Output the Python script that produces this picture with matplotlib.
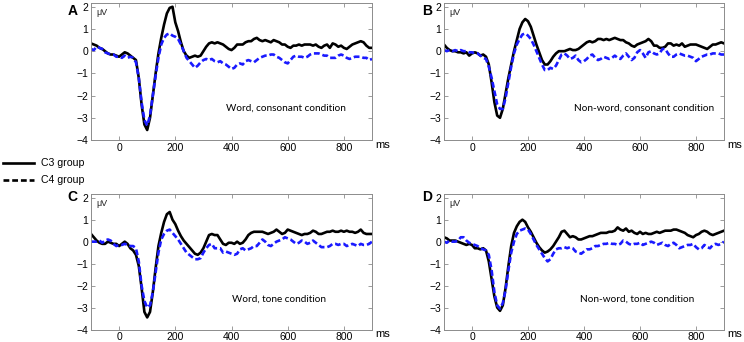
import numpy as np
import matplotlib
matplotlib.use("Agg")
import matplotlib.pyplot as plt
from matplotlib.lines import Line2D

# time axis in ms (sampled every 10 ms)
time_ms = np.arange(-100, 901, 10)

# Panel A: Word, consonant condition
a_c3 = [0.35, 0.3, 0.25, 0.15, 0.1, 0.0, -0.1, -0.15, -0.15, -0.2, -0.25,
        -0.15, -0.05, -0.1, -0.2, -0.3, -0.4, -1.2, -2.4, -3.3, -3.55,
        -3.0, -2.0, -1.0, -0.1, 0.6, 1.2, 1.7, 1.95, 2.0, 1.3,
        0.9, 0.4, 0.0, -0.2, -0.3, -0.25, -0.2, -0.25, -0.2, 0.0,
        0.2, 0.35, 0.4, 0.35, 0.4, 0.35, 0.3, 0.2, 0.1, 0.05,
        0.15, 0.3, 0.3, 0.3, 0.4, 0.45, 0.45, 0.55, 0.6, 0.5,
        0.45, 0.5, 0.45, 0.4, 0.5, 0.45, 0.4, 0.3, 0.3, 0.2,
        0.15, 0.25, 0.25, 0.3, 0.25, 0.3, 0.3, 0.3, 0.25, 0.3,
        0.2, 0.15, 0.25, 0.3, 0.15, 0.35, 0.3, 0.2, 0.25, 0.15,
        0.1, 0.2, 0.3, 0.35, 0.4, 0.45, 0.4, 0.25, 0.15, 0.15]
a_c4 = [0.1, 0.05, 0.2, 0.15, 0.1, -0.05, -0.1, -0.15, -0.15, -0.25, -0.25,
        -0.3, -0.2, -0.3, -0.25, -0.3, -0.5, -1.2, -2.3, -3.1, -3.35,
        -2.9, -2.0, -1.1, -0.3, 0.3, 0.6, 0.75, 0.8, 0.7, 0.65,
        0.55, 0.3, 0.0, -0.3, -0.45, -0.6, -0.75, -0.65, -0.5, -0.4,
        -0.35, -0.4, -0.35, -0.45, -0.5, -0.45, -0.55, -0.6, -0.7, -0.8,
        -0.75, -0.6, -0.55, -0.6, -0.45, -0.4, -0.45, -0.5, -0.4, -0.3,
        -0.25, -0.2, -0.2, -0.15, -0.15, -0.25, -0.3, -0.4, -0.5, -0.55,
        -0.4, -0.25, -0.2, -0.25, -0.25, -0.3, -0.25, -0.15, -0.1, -0.1,
        -0.1, -0.15, -0.2, -0.2, -0.3, -0.3, -0.3, -0.2, -0.15, -0.2,
        -0.3, -0.35, -0.3, -0.25, -0.25, -0.25, -0.3, -0.3, -0.4, -0.35]

# Panel B: Non-word, consonant condition
b_c3 = [0.3, 0.15, 0.05, 0.0, 0.0, -0.05, -0.05, -0.1, -0.05, -0.2, -0.1,
        -0.05, -0.1, -0.2, -0.15, -0.25, -0.6, -1.4, -2.3, -2.9, -3.0,
        -2.6, -1.9, -1.2, -0.6, 0.0, 0.5, 1.0, 1.3, 1.45, 1.35,
        1.1, 0.7, 0.3, -0.05, -0.4, -0.6, -0.6, -0.45, -0.25, -0.1,
        0.0, 0.0, 0.0, 0.05, 0.1, 0.05, 0.05, 0.1, 0.2, 0.3,
        0.4, 0.45, 0.4, 0.45, 0.55, 0.55, 0.5, 0.55, 0.5, 0.55,
        0.6, 0.55, 0.5, 0.5, 0.4, 0.35, 0.25, 0.2, 0.3, 0.35,
        0.4, 0.45, 0.55, 0.45, 0.25, 0.25, 0.15, 0.15, 0.2, 0.35,
        0.35, 0.25, 0.3, 0.25, 0.35, 0.2, 0.25, 0.3, 0.3, 0.3,
        0.25, 0.2, 0.15, 0.1, 0.2, 0.3, 0.3, 0.35, 0.4, 0.35]
b_c4 = [0.05, 0.0, 0.05, 0.0, 0.05, 0.0, 0.05, 0.0, 0.0, -0.05, -0.05,
        -0.1, -0.1, -0.2, -0.3, -0.35, -0.7, -1.2, -1.8, -2.4, -2.6,
        -2.6, -2.1, -1.4, -0.7, -0.1, 0.3, 0.55, 0.75, 0.8, 0.7,
        0.55, 0.3, 0.0, -0.3, -0.6, -0.85, -0.85, -0.75, -0.8, -0.65,
        -0.4, -0.15, -0.1, -0.2, -0.35, -0.3, -0.2, -0.4, -0.5, -0.45,
        -0.35, -0.2, -0.15, -0.3, -0.4, -0.35, -0.25, -0.3, -0.35, -0.3,
        -0.2, -0.3, -0.35, -0.2, -0.1, -0.25, -0.4, -0.3, -0.05, 0.05,
        -0.1, -0.3, -0.05, 0.0, -0.1, -0.15, -0.1, 0.1, 0.1, -0.1,
        -0.25, -0.25, -0.15, -0.1, -0.15, -0.2, -0.2, -0.25, -0.3, -0.45,
        -0.35, -0.25, -0.2, -0.15, -0.15, -0.1, -0.1, -0.1, -0.15, -0.15]

# Panel C: Word, tone condition
c_c3 = [0.35, 0.2, 0.05, -0.05, -0.1, -0.1, 0.0, -0.05, -0.1, -0.1, -0.2,
        -0.1, 0.0, -0.1, -0.3, -0.4, -0.6, -1.1, -2.1, -3.2, -3.45,
        -3.2, -2.3, -1.2, -0.2, 0.4, 0.9, 1.25, 1.35, 1.0, 0.8,
        0.5, 0.25, 0.05, -0.1, -0.25, -0.4, -0.55, -0.6, -0.5, -0.3,
        0.0, 0.3, 0.35, 0.3, 0.3, 0.1, -0.1, -0.15, -0.05, -0.05,
        -0.1, 0.0, -0.1, -0.05, 0.1, 0.3, 0.4, 0.45, 0.45, 0.45,
        0.45, 0.4, 0.35, 0.4, 0.45, 0.55, 0.45, 0.35, 0.4, 0.55,
        0.5, 0.45, 0.4, 0.35, 0.3, 0.35, 0.35, 0.4, 0.5, 0.45,
        0.35, 0.35, 0.4, 0.45, 0.45, 0.5, 0.45, 0.45, 0.5, 0.45,
        0.5, 0.45, 0.45, 0.4, 0.45, 0.55, 0.4, 0.35, 0.35, 0.35]
c_c4 = [0.0, 0.0, 0.0, 0.05, -0.05, 0.05, 0.1, 0.05, -0.1, -0.2, -0.15,
        -0.15, -0.1, -0.15, -0.2, -0.2, -0.3, -0.9, -2.0, -2.7, -3.0,
        -2.9, -2.3, -1.4, -0.5, 0.1, 0.35, 0.5, 0.55, 0.4, 0.25,
        0.1, -0.1, -0.3, -0.5, -0.6, -0.7, -0.8, -0.8, -0.75, -0.5,
        -0.3, -0.15, -0.1, -0.3, -0.3, -0.3, -0.5, -0.45, -0.5, -0.55,
        -0.6, -0.55, -0.35, -0.3, -0.4, -0.35, -0.3, -0.2, -0.2, -0.05,
        0.1, 0.0, -0.15, -0.2, -0.1, 0.0, 0.05, 0.1, 0.2, 0.15,
        0.1, 0.0, -0.1, -0.05, 0.05, 0.0, -0.1, -0.05, 0.05, -0.05,
        -0.15, -0.25, -0.25, -0.25, -0.2, -0.1, -0.1, -0.15, -0.1, -0.1,
        -0.2, -0.15, -0.1, -0.15, -0.2, -0.1, -0.15, -0.15, -0.1, 0.0]

# Panel D: Non-word, tone condition
d_c3 = [0.2, 0.15, 0.05, 0.05, 0.05, 0.0, -0.05, -0.1, -0.15, -0.1, -0.15,
        -0.3, -0.3, -0.35, -0.3, -0.4, -0.9, -1.7, -2.5, -3.0, -3.15,
        -2.9, -2.1, -1.1, -0.2, 0.4, 0.7, 0.9, 1.0, 0.9, 0.65,
        0.45, 0.2, -0.05, -0.25, -0.4, -0.5, -0.45, -0.35, -0.2, 0.0,
        0.2, 0.45, 0.5, 0.35, 0.2, 0.25, 0.2, 0.1, 0.1, 0.15,
        0.2, 0.25, 0.25, 0.3, 0.35, 0.4, 0.4, 0.4, 0.45, 0.45,
        0.5, 0.65, 0.55, 0.5, 0.6, 0.45, 0.5, 0.4, 0.35, 0.45,
        0.35, 0.4, 0.35, 0.35, 0.4, 0.45, 0.4, 0.45, 0.5, 0.5,
        0.5, 0.55, 0.55, 0.5, 0.45, 0.4, 0.3, 0.25, 0.2, 0.3,
        0.35, 0.45, 0.5, 0.45, 0.35, 0.3, 0.35, 0.4, 0.45, 0.5]
d_c4 = [0.0, -0.05, 0.05, 0.0, 0.0, 0.05, 0.2, 0.2, 0.05, -0.05, -0.1,
        -0.15, -0.2, -0.3, -0.35, -0.4, -0.6, -1.3, -2.3, -2.9, -3.05,
        -2.8, -2.2, -1.3, -0.5, 0.0, 0.35, 0.5, 0.55, 0.6, 0.55,
        0.35, 0.1, -0.15, -0.35, -0.55, -0.75, -0.9, -0.8, -0.55, -0.35,
        -0.3, -0.3, -0.25, -0.3, -0.25, -0.3, -0.45, -0.5, -0.55, -0.45,
        -0.35, -0.35, -0.3, -0.2, -0.2, -0.15, -0.1, -0.1, -0.05, -0.1,
        -0.1, -0.15, -0.1, 0.05, 0.0, -0.1, -0.15, -0.1, -0.1, -0.05,
        -0.15, -0.1, -0.05, 0.0, -0.05, -0.15, -0.1, -0.05, -0.15, -0.2,
        -0.1, -0.05, -0.15, -0.3, -0.25, -0.2, -0.15, -0.15, -0.1, -0.25,
        -0.35, -0.3, -0.15, -0.25, -0.3, -0.15, -0.1, -0.15, -0.1, 0.0]

panel_letters = ["A", "B", "C", "D"]
conditions = ["Word, consonant condition", "Non-word, consonant condition",
              "Word, tone condition", "Non-word, tone condition"]
series_c3 = [a_c3, b_c3, c_c3, d_c3]
series_c4 = [a_c4, b_c4, c_c4, d_c4]
group_labels = ["C3 group", "C4 group"]
x_ticks = [0, 200, 400, 600, 800]
y_ticks = [-4, -3, -2, -1, 0, 1, 2]

W, H = 744, 342
fig = plt.figure(figsize=(W / 100, H / 100), dpi=100)

def px_axes(left, top, right, bottom):
    return fig.add_axes([left / W, 1 - bottom / H, (right - left) / W, (bottom - top) / H])

boxes = [(91, 3, 372, 140), (444, 3, 724, 140), (91, 194, 372, 329.5), (444, 194, 724, 329.5)]
letter_pos = [(68, 11), (422, 11), (67, 197), (422, 197)]
cond_pos = [(226, 108), (574, 108), (232, 299), (580, 299)]
ms_pos = [(375, 145), (727, 145), (375, 334), (727, 334)]

tick_font = "Liberation Sans"
frame_col = "#8c8c8c"

for i, (l, t, r, b) in enumerate(boxes):
    ax = px_axes(l, t, r, b)
    ax.plot(time_ms, series_c3[i], color="black", lw=1.9, solid_joinstyle="round")
    ax.plot(time_ms, series_c4[i], color="#1a1aff", lw=1.9, linestyle=(0, (2.2, 1.1)))
    ax.set_xlim(-100, 900)
    ax.set_ylim(-4, 2.17)
    ax.set_xticks(x_ticks)
    ax.set_yticks(y_ticks)
    ax.tick_params(direction="in", length=3, width=0.6, color=frame_col,
                   top=True, right=True, labelsize=7.5, pad=2)
    for lab in ax.get_xticklabels() + ax.get_yticklabels():
        lab.set_fontfamily(tick_font)
    for sp in ax.spines.values():
        sp.set_color(frame_col)
        sp.set_linewidth(0.7)
    ax.text(0.02, 0.93, "μV", transform=ax.transAxes, fontsize=6.5,
            fontfamily=tick_font, color="#222222", va="center", ha="left")
    fig.text(letter_pos[i][0] / W, 1 - letter_pos[i][1] / H, panel_letters[i],
             fontsize=10, fontweight="bold", fontfamily=tick_font, ha="left", va="center")
    fig.text(cond_pos[i][0] / W, 1 - cond_pos[i][1] / H, conditions[i],
             fontsize=7.2, fontfamily="Lato", ha="left", va="center")
    fig.text(ms_pos[i][0] / W, 1 - ms_pos[i][1] / H, "ms",
             fontsize=8, fontfamily=tick_font, ha="left", va="center")

# legend at left margin
fig.add_artist(Line2D([3 / W, 34 / W], [1 - 163 / H, 1 - 163 / H], color="black", lw=1.9))
fig.add_artist(Line2D([3 / W, 34 / W], [1 - 180 / H, 1 - 180 / H], color="black", lw=1.9,
                      linestyle=(0, (2.2, 1.1))))
fig.text(41 / W, 1 - 163 / H, group_labels[0], fontsize=7.6, fontfamily=tick_font, va="center")
fig.text(41 / W, 1 - 180 / H, group_labels[1], fontsize=7.6, fontfamily=tick_font, va="center")

fig.savefig("out.png", dpi=100)
